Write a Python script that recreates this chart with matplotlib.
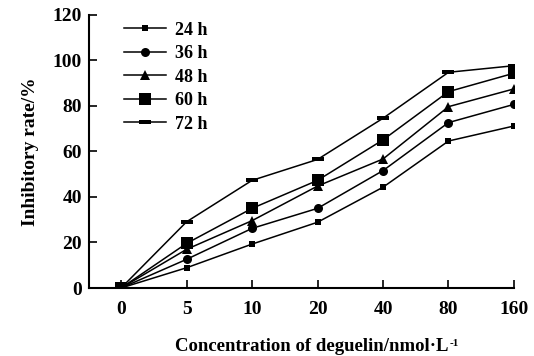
import matplotlib.pyplot as plt

plt.rcParams['font.family'] = ['Liberation Serif', 'DejaVu Serif']
plt.rcParams['font.weight'] = 'bold'

concentrations = ["0", "5", "10", "20", "40", "80", "160"]
rate_24h = [0, 8.9, 19.3, 28.9, 44.3, 64.6, 71.2]
rate_36h = [0, 12.6, 26.2, 35.0, 51.6, 72.7, 80.7]
rate_48h = [0, 17.0, 29.6, 44.8, 56.7, 79.7, 87.5]
rate_60h = [0, 19.6, 35.0, 47.3, 65.1, 86.3, 94.4]
rate_72h = [0, 29.1, 47.3, 56.5, 74.6, 94.8, 97.7]

dash = [(-1, -0.28), (1, -0.28), (1, 0.28), (-1, 0.28), (-1, -0.28)]

series = [
    ("24 h", rate_24h, "s", 4.5),
    ("36 h", rate_36h, "o", 6.5),
    ("48 h", rate_48h, "^", 7),
    ("60 h", rate_60h, "s", 8),
    ("72 h", rate_72h, dash, 8),
]

fig = plt.figure(figsize=(5.34, 3.56), dpi=100)
ax = fig.add_axes([0.1667, 0.191, 0.7958, 0.767])

x = list(range(len(concentrations)))
for name, vals, mk, ms in series:
    ax.plot(x, vals, color="black", lw=1.1, marker=mk, markersize=ms,
            markeredgewidth=0, label=name)

ax.set_xlim(-0.49, 6.0)
ax.set_ylim(0, 120)
ax.set_xticks(x)
ax.set_xticklabels(concentrations)
ax.set_yticks(range(0, 121, 20))
ax.spines["top"].set_visible(False)
ax.spines["right"].set_visible(False)
for s in ("left", "bottom"):
    ax.spines[s].set_linewidth(1.5)
ax.tick_params(direction="in", length=6, width=1.2, labelsize=14, pad=5)
ax.tick_params(axis="x", pad=9)

ax.set_ylabel("Inhibitory rate/%", fontsize=14, fontweight="bold", labelpad=10)

# x label with small superscript drawn separately
xl = ax.text(0.525, -0.182, "Concentration of deguelin/nmol·L", transform=ax.transAxes,
             ha="center", va="top", fontsize=13.5, fontweight="bold")
fig.canvas.draw()
bb = xl.get_window_extent(fig.canvas.get_renderer())
fig.text((bb.x1 + 1) / fig.bbox.width, (bb.y1 - 1) / fig.bbox.height, "-1",
         ha="left", va="top", fontsize=8, fontweight="bold")

ax.legend(loc="upper left", bbox_to_anchor=(0.045, 1.035), frameon=False,
          fontsize=13, handlelength=2.3, labelspacing=0.36, handletextpad=0.5)

plt.savefig("out.png", dpi=100)
